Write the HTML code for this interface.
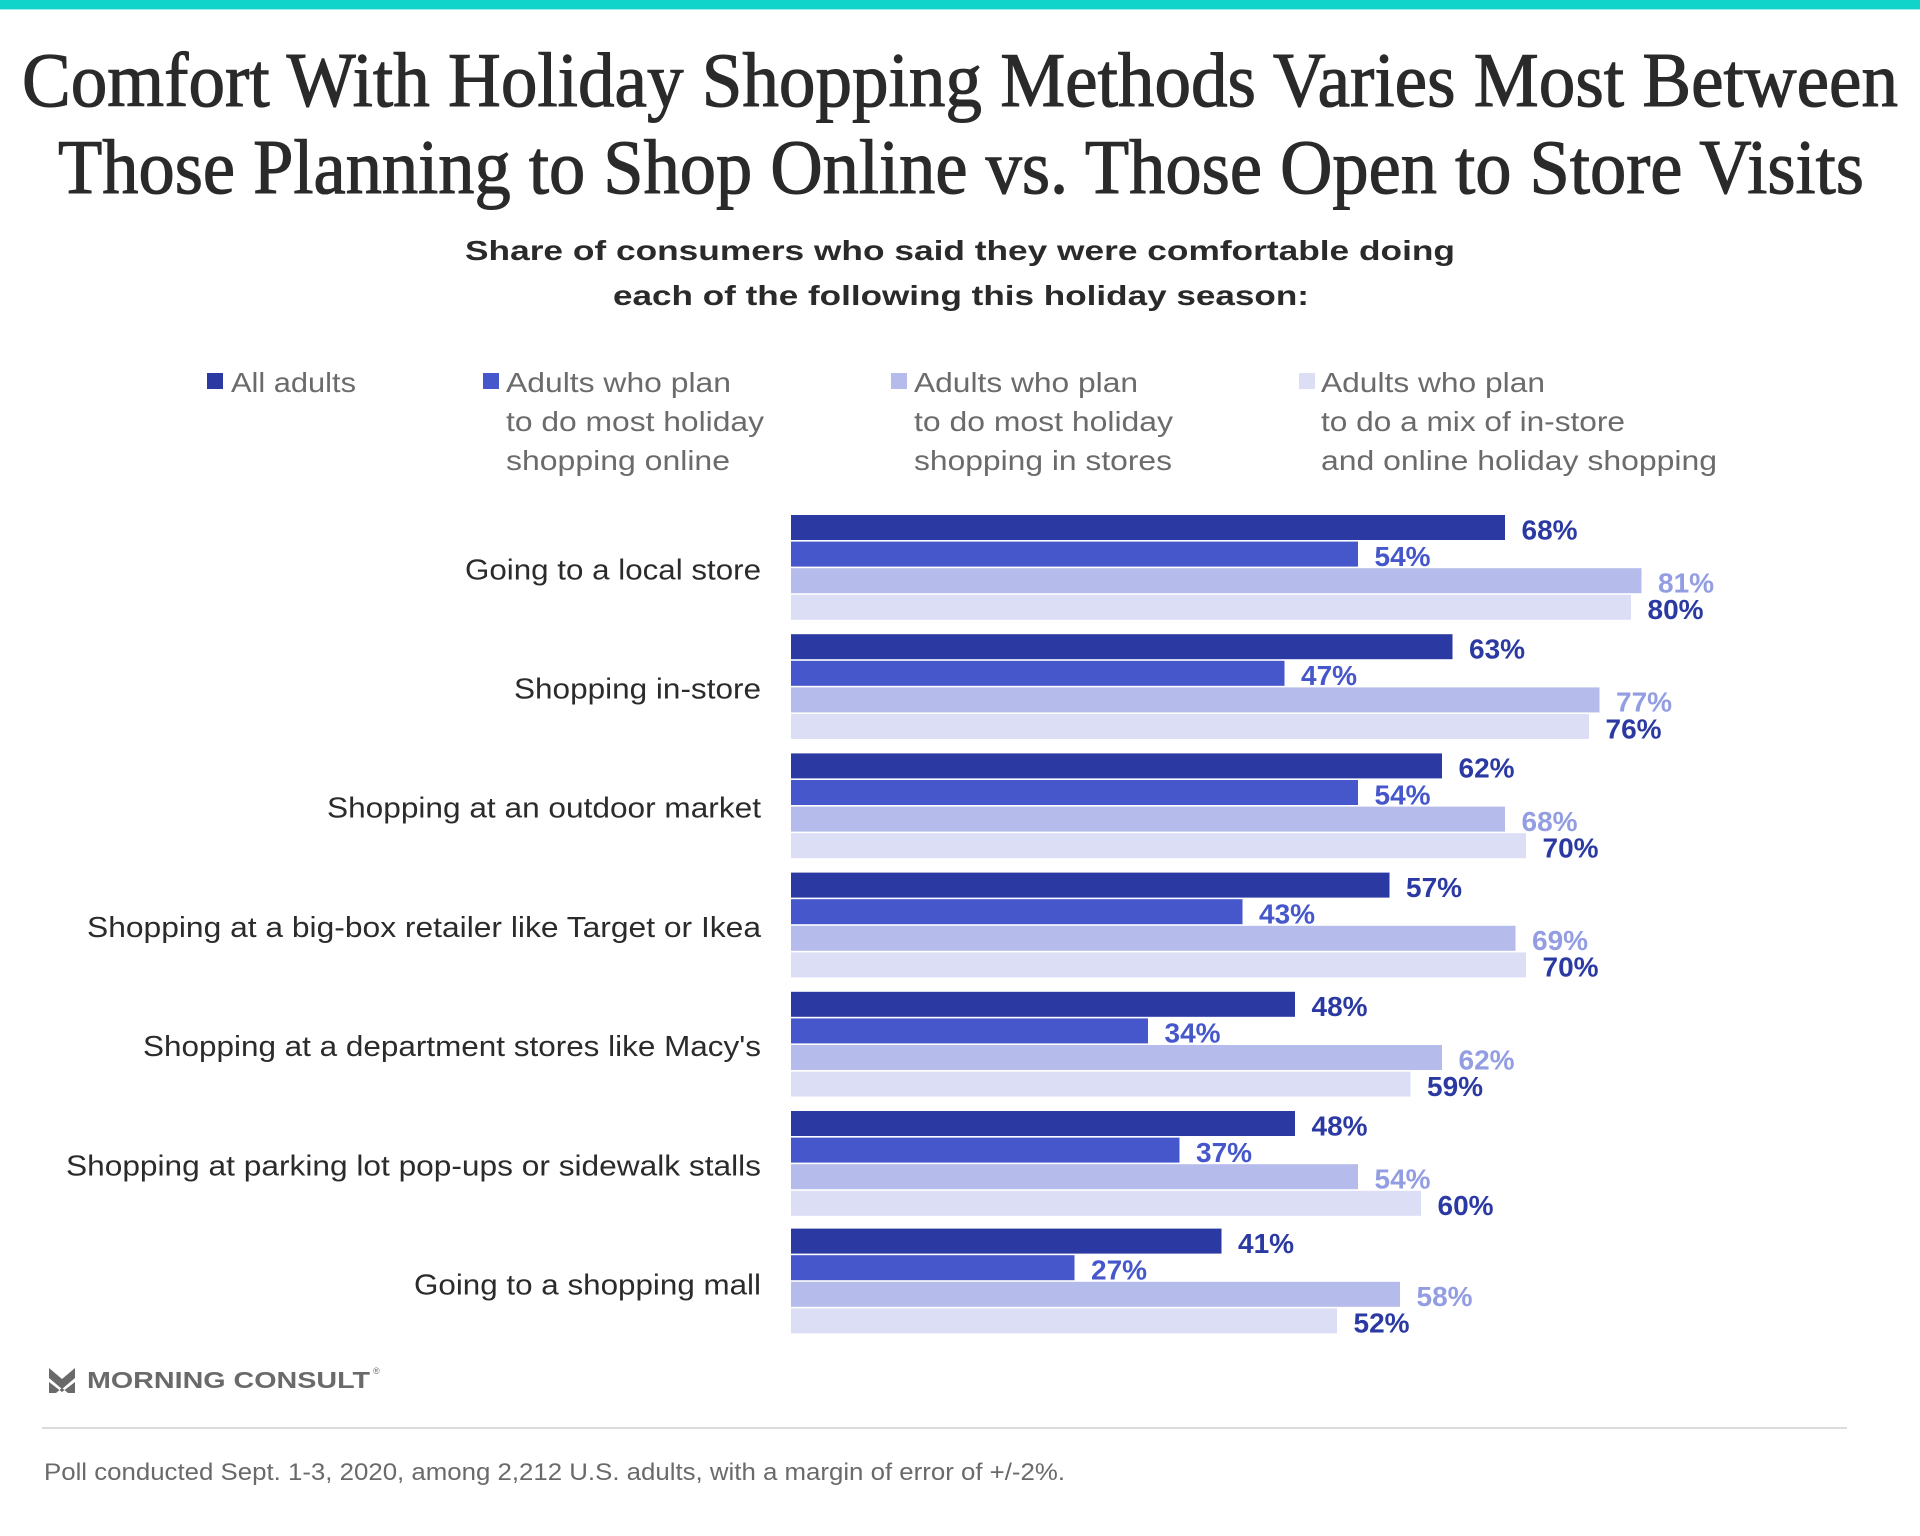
<!DOCTYPE html>
<html>
<head>
<meta charset="utf-8">
<style>
  html, body { margin: 0; padding: 0; background: #ffffff; }
  body { width: 1920px; height: 1536px; overflow: hidden; }
  svg { display: block; }
  .title { font-family: "Liberation Serif", serif; font-size: 77px; fill: #2a2a2a; stroke: #2a2a2a; stroke-width: 1.1px; }
  .sub { font-family: "Liberation Sans", sans-serif; font-size: 28px; font-weight: bold; fill: #2a2a2a; }
  .leg { font-family: "Liberation Sans", sans-serif; font-size: 28px; fill: #6b6b6b; }
  .cat { font-family: "Liberation Sans", sans-serif; font-size: 29px; fill: #2b2b2b; }
  .val { font-family: "Liberation Sans", sans-serif; font-size: 28px; font-weight: bold; }
  .foot { font-family: "Liberation Sans", sans-serif; font-size: 24px; fill: #6a6a6a; }
  .logo { font-family: "Liberation Sans", sans-serif; font-size: 23px; font-weight: bold; fill: #6a6a6a; }
</style>
</head>
<body>
<svg width="1920" height="1536" viewBox="0 0 1920 1536" xmlns="http://www.w3.org/2000/svg">
  <rect x="0" y="0" width="1920" height="9" fill="#10d4c9"/>
  <rect x="0" y="9" width="1920" height="1" fill="#9eeee8"/>

  <!-- Title -->
  <text class="title" x="22" y="106" textLength="1876" lengthAdjust="spacingAndGlyphs">Comfort With Holiday Shopping Methods Varies Most Between</text>
  <text class="title" x="58" y="193" textLength="1806" lengthAdjust="spacingAndGlyphs">Those Planning to Shop Online vs. Those Open to Store Visits</text>

  <!-- Subtitle -->
  <text class="sub" x="465" y="260" textLength="990" lengthAdjust="spacingAndGlyphs">Share of consumers who said they were comfortable doing</text>
  <text class="sub" x="613" y="305" textLength="696" lengthAdjust="spacingAndGlyphs">each of the following this holiday season:</text>

  <!-- Legend -->
  <rect x="207" y="373" width="16" height="16" fill="#2b3aa3"/>
  <text class="leg" x="231" y="392" textLength="125" lengthAdjust="spacingAndGlyphs">All adults</text>

  <rect x="483" y="373" width="16" height="16" fill="#4557cb"/>
  <text class="leg" x="506" y="392" textLength="225" lengthAdjust="spacingAndGlyphs">Adults who plan</text>
  <text class="leg" x="506" y="431" textLength="258" lengthAdjust="spacingAndGlyphs">to do most holiday</text>
  <text class="leg" x="506" y="470" textLength="224" lengthAdjust="spacingAndGlyphs">shopping online</text>

  <rect x="891" y="373" width="16" height="16" fill="#b5bbea"/>
  <text class="leg" x="914" y="392" textLength="224" lengthAdjust="spacingAndGlyphs">Adults who plan</text>
  <text class="leg" x="914" y="431" textLength="259" lengthAdjust="spacingAndGlyphs">to do most holiday</text>
  <text class="leg" x="914" y="470" textLength="258" lengthAdjust="spacingAndGlyphs">shopping in stores</text>

  <rect x="1299" y="373" width="16" height="16" fill="#dcdef6"/>
  <text class="leg" x="1321" y="392" textLength="224" lengthAdjust="spacingAndGlyphs">Adults who plan</text>
  <text class="leg" x="1321" y="431" textLength="304" lengthAdjust="spacingAndGlyphs">to do a mix of in-store</text>
  <text class="leg" x="1321" y="470" textLength="396" lengthAdjust="spacingAndGlyphs">and online holiday shopping</text>

  <!-- Category labels -->
  <text class="cat" x="761" y="579.3" text-anchor="end" textLength="296" lengthAdjust="spacingAndGlyphs">Going to a local store</text>
  <text class="cat" x="761" y="698.5" text-anchor="end" textLength="247" lengthAdjust="spacingAndGlyphs">Shopping in-store</text>
  <text class="cat" x="761" y="817.7" text-anchor="end" textLength="434" lengthAdjust="spacingAndGlyphs">Shopping at an outdoor market</text>
  <text class="cat" x="761" y="936.9" text-anchor="end" textLength="674" lengthAdjust="spacingAndGlyphs">Shopping at a big-box retailer like Target or Ikea</text>
  <text class="cat" x="761" y="1056.1" text-anchor="end" textLength="618" lengthAdjust="spacingAndGlyphs">Shopping at a department stores like Macy's</text>
  <text class="cat" x="761" y="1175.3" text-anchor="end" textLength="695" lengthAdjust="spacingAndGlyphs">Shopping at parking lot pop-ups or sidewalk stalls</text>
  <text class="cat" x="761" y="1294.5" text-anchor="end" textLength="347" lengthAdjust="spacingAndGlyphs">Going to a shopping mall</text>

  <!-- Group 1: 68, 54, 81, 80 -->
  <rect x="791" y="515" width="714" height="25" fill="#2b3aa3"/>
  <rect x="791" y="541.6" width="567" height="25" fill="#4557cb"/>
  <rect x="791" y="568.2" width="850.5" height="25" fill="#b5bbea"/>
  <rect x="791" y="594.8" width="840" height="25" fill="#dcdef6"/>
  <text class="val" x="1521.5" y="539.3" fill="#2b3aa3">68%</text>
  <text class="val" x="1374.5" y="565.9" fill="#4557cb">54%</text>
  <text class="val" x="1658" y="592.5" fill="#939de2">81%</text>
  <text class="val" x="1647.5" y="619.1" fill="#2b3aa3">80%</text>

  <!-- Group 2: 63, 47, 77, 76 -->
  <rect x="791" y="634.2" width="661.5" height="25" fill="#2b3aa3"/>
  <rect x="791" y="660.8" width="493.5" height="25" fill="#4557cb"/>
  <rect x="791" y="687.4" width="808.5" height="25" fill="#b5bbea"/>
  <rect x="791" y="714" width="798" height="25" fill="#dcdef6"/>
  <text class="val" x="1469" y="658.5" fill="#2b3aa3">63%</text>
  <text class="val" x="1301" y="685.1" fill="#4557cb">47%</text>
  <text class="val" x="1616" y="711.7" fill="#939de2">77%</text>
  <text class="val" x="1605.5" y="738.3" fill="#2b3aa3">76%</text>

  <!-- Group 3: 62, 54, 68, 70 -->
  <rect x="791" y="753.4" width="651" height="25" fill="#2b3aa3"/>
  <rect x="791" y="780" width="567" height="25" fill="#4557cb"/>
  <rect x="791" y="806.6" width="714" height="25" fill="#b5bbea"/>
  <rect x="791" y="833.2" width="735" height="25" fill="#dcdef6"/>
  <text class="val" x="1458.5" y="777.7" fill="#2b3aa3">62%</text>
  <text class="val" x="1374.5" y="804.3" fill="#4557cb">54%</text>
  <text class="val" x="1521.5" y="830.9" fill="#939de2">68%</text>
  <text class="val" x="1542.5" y="857.5" fill="#2b3aa3">70%</text>

  <!-- Group 4: 57, 43, 69, 70 -->
  <rect x="791" y="872.6" width="598.5" height="25" fill="#2b3aa3"/>
  <rect x="791" y="899.2" width="451.5" height="25" fill="#4557cb"/>
  <rect x="791" y="925.8" width="724.5" height="25" fill="#b5bbea"/>
  <rect x="791" y="952.4" width="735" height="25" fill="#dcdef6"/>
  <text class="val" x="1406" y="896.9" fill="#2b3aa3">57%</text>
  <text class="val" x="1259" y="923.5" fill="#4557cb">43%</text>
  <text class="val" x="1532" y="950.1" fill="#939de2">69%</text>
  <text class="val" x="1542.5" y="976.7" fill="#2b3aa3">70%</text>

  <!-- Group 5: 48, 34, 62, 59 -->
  <rect x="791" y="991.8" width="504" height="25" fill="#2b3aa3"/>
  <rect x="791" y="1018.4" width="357" height="25" fill="#4557cb"/>
  <rect x="791" y="1045" width="651" height="25" fill="#b5bbea"/>
  <rect x="791" y="1071.6" width="619.5" height="25" fill="#dcdef6"/>
  <text class="val" x="1311.5" y="1016.1" fill="#2b3aa3">48%</text>
  <text class="val" x="1164.5" y="1042.7" fill="#4557cb">34%</text>
  <text class="val" x="1458.5" y="1069.3" fill="#939de2">62%</text>
  <text class="val" x="1427" y="1095.9" fill="#2b3aa3">59%</text>

  <!-- Group 6: 48, 37, 54, 60 -->
  <rect x="791" y="1111" width="504" height="25" fill="#2b3aa3"/>
  <rect x="791" y="1137.6" width="388.5" height="25" fill="#4557cb"/>
  <rect x="791" y="1164.2" width="567" height="25" fill="#b5bbea"/>
  <rect x="791" y="1190.8" width="630" height="25" fill="#dcdef6"/>
  <text class="val" x="1311.5" y="1135.3" fill="#2b3aa3">48%</text>
  <text class="val" x="1196" y="1161.9" fill="#4557cb">37%</text>
  <text class="val" x="1374.5" y="1188.5" fill="#939de2">54%</text>
  <text class="val" x="1437.5" y="1215.1" fill="#2b3aa3">60%</text>

  <!-- Group 7: 41, 27, 58, 52 -->
  <rect x="791" y="1228.6" width="430.5" height="25" fill="#2b3aa3"/>
  <rect x="791" y="1255.2" width="283.5" height="25" fill="#4557cb"/>
  <rect x="791" y="1281.8" width="609" height="25" fill="#b5bbea"/>
  <rect x="791" y="1308.4" width="546" height="25" fill="#dcdef6"/>
  <text class="val" x="1238" y="1252.9" fill="#2b3aa3">41%</text>
  <text class="val" x="1091" y="1279.5" fill="#4557cb">27%</text>
  <text class="val" x="1416.5" y="1306.1" fill="#939de2">58%</text>
  <text class="val" x="1353.5" y="1332.7" fill="#2b3aa3">52%</text>

  <!-- Logo -->
  <polygon points="49,1368 62,1379 75,1368 75,1378 62,1389 49,1378" fill="#6a6a6a"/>
  <polygon points="49,1382 62,1392 75,1382 75,1393 68,1393 62,1388 56,1393 49,1393" fill="#6a6a6a"/>
  <text class="logo" x="87" y="1388" textLength="283" lengthAdjust="spacingAndGlyphs">MORNING CONSULT</text>
  <text class="foot" x="373" y="1374" style="font-size:9px">®</text>

  <!-- Separator -->
  <rect x="42" y="1427" width="1805" height="2" fill="#dcdcdc"/>

  <!-- Footer -->
  <text class="foot" x="44" y="1480" textLength="1021" lengthAdjust="spacingAndGlyphs">Poll conducted Sept. 1-3, 2020, among 2,212 U.S. adults, with a margin of error of +/-2%.</text>
</svg>
</body>
</html>
